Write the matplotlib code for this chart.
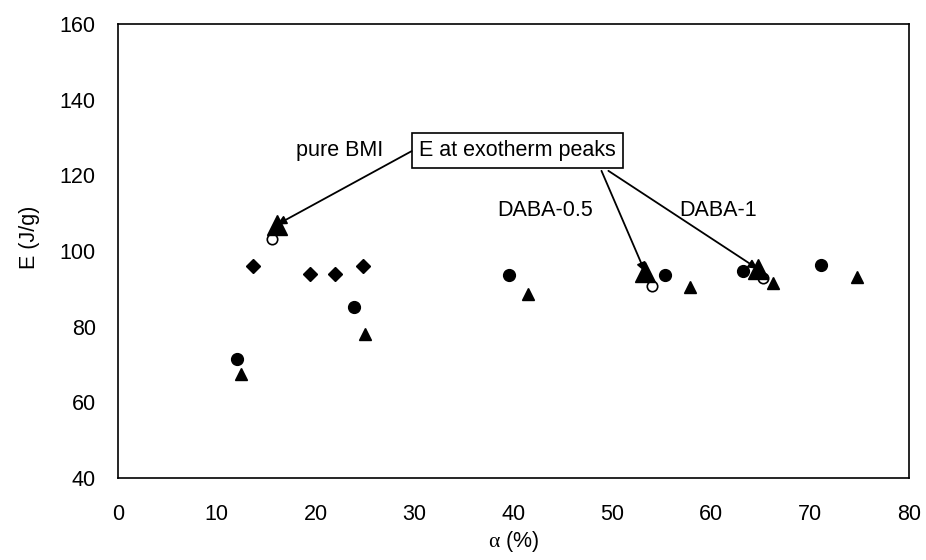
import matplotlib
matplotlib.use("Agg")
import matplotlib.pyplot as plt

plt.rcParams['font.family'] = ['Liberation Sans', 'DejaVu Sans']
plt.rcParams['mathtext.fontset'] = 'custom'
plt.rcParams['mathtext.rm'] = 'Liberation Serif'
plt.rcParams['mathtext.it'] = 'Liberation Serif'

# Diamonds
diamond_x = [13.7, 19.4, 22.0, 24.8]
diamond_y = [96.0, 94.0, 94.0, 96.0]

# Filled circles
circle_x = [12.0, 23.9, 39.5, 55.3, 63.2, 71.1]
circle_y = [71.4, 85.3, 93.7, 93.7, 94.6, 96.3]

# Filled small triangles
tri_x = [12.4, 25.0, 41.5, 57.9, 66.2, 74.7]
tri_y = [67.5, 78.0, 88.7, 90.5, 91.5, 93.2]

# Open circles
open_x = [15.6, 54.0, 65.2]
open_y = [103.3, 90.8, 92.8]

# E at exotherm peaks (big triangles)
peak_labels = ['pure BMI', 'DABA-0.5', 'DABA-1']
peak_x = [16.1, 53.3, 64.7]
peak_y = [107.0, 94.5, 95.3]

x_ticks = [0, 10, 20, 30, 40, 50, 60, 70, 80]
y_ticks = [40, 60, 80, 100, 120, 140, 160]

fig = plt.figure(figsize=(9.26, 5.6), dpi=100)
ax = fig.add_axes([0.1274, 0.1464, 0.8542, 0.8107])

ax.plot(diamond_x, diamond_y, linestyle='none', marker='D', ms=7, color='black')
ax.plot(circle_x, circle_y, linestyle='none', marker='o', ms=8.5, color='black')
ax.plot(tri_x, tri_y, linestyle='none', marker='^', ms=8.5, color='black')
ax.plot(open_x, open_y, linestyle='none', marker='o', ms=7.5,
        markerfacecolor='white', markeredgecolor='black', markeredgewidth=1.2)
ax.plot(peak_x, peak_y, linestyle='none', marker='^', ms=14, color='black')

# box label and arrows
ax.text(40.4, 126.6, 'E at exotherm peaks', ha='center', va='center', fontsize=15.5,
        bbox=dict(boxstyle='square,pad=0.33', facecolor='white', edgecolor='black', lw=1.2))
arrow_starts = [(29.7, 126.4), (48.9, 121.2), (49.6, 121.2)]
arrow = dict(arrowstyle='-|>', color='black', lw=1.3, mutation_scale=13,
             shrinkA=0, shrinkB=0)
for (sx, sy), px, py in zip(arrow_starts, peak_x, peak_y):
    ax.annotate('', xy=(px, py), xytext=(sx, sy), arrowprops=arrow)

ax.text(22.4, 126.6, peak_labels[0], ha='center', va='center', fontsize=15.5)
ax.text(43.2, 110.8, peak_labels[1], ha='center', va='center', fontsize=15.5)
ax.text(60.7, 110.8, peak_labels[2], ha='center', va='center', fontsize=15.5)

ax.set_xlim(0, 80)
ax.set_ylim(40, 160)
ax.set_xticks(x_ticks)
ax.set_yticks(y_ticks)
ax.tick_params(length=0, labelsize=15.5)
ax.tick_params(axis='x', pad=19)
ax.tick_params(axis='y', pad=16)
for s in ax.spines.values():
    s.set_linewidth(1.2)
    s.set_color('black')

ax.set_xlabel(r'$\alpha$ (%)', fontsize=15.5)
ax.set_ylabel('E (J/g)', fontsize=15.5)
ax.xaxis.set_label_coords(0.5, -0.113)
ax.yaxis.set_label_coords(-0.098, 0.53)

fig.savefig('out.png', dpi=100)
